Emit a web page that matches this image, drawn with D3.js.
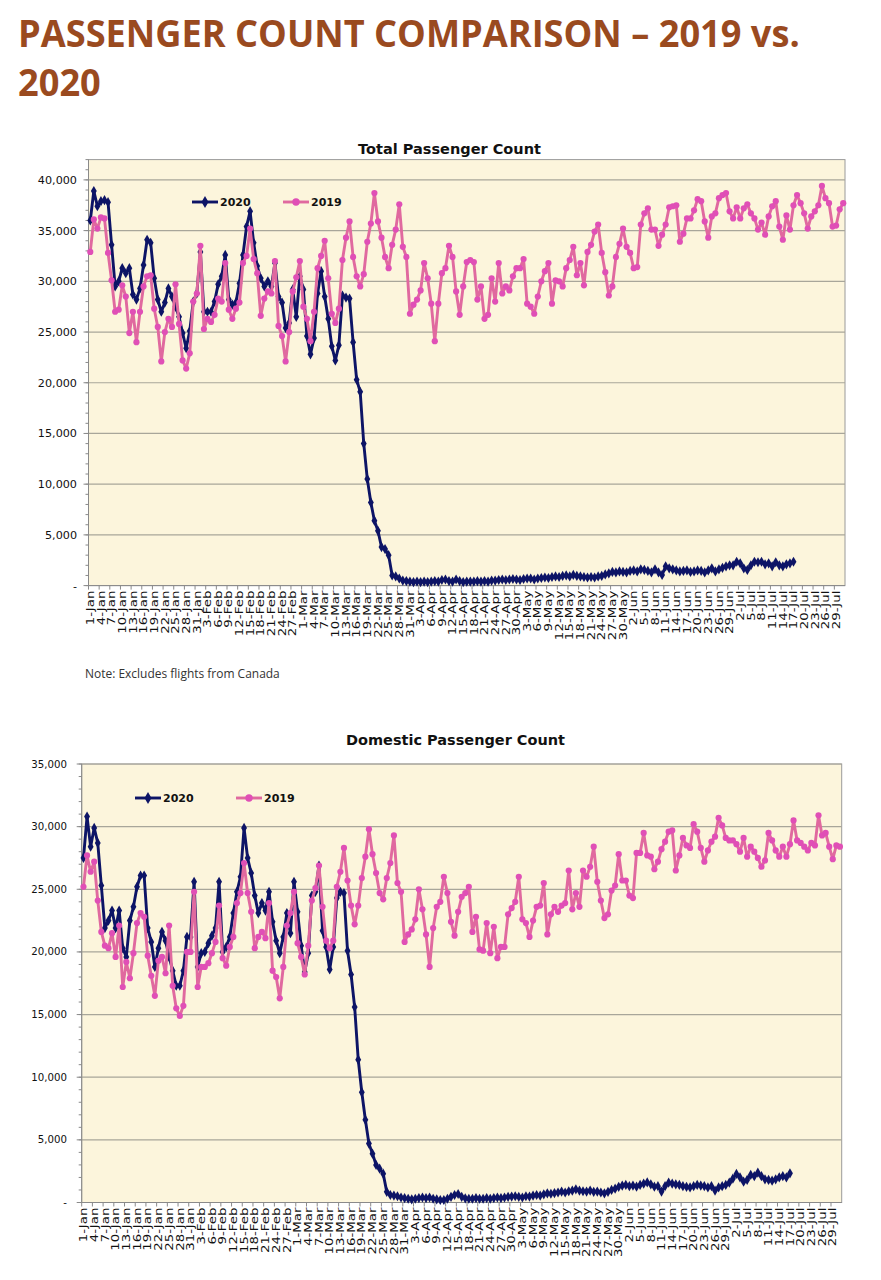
<!DOCTYPE html>
<html>
<head>
<meta charset="utf-8">
<script src="https://cdn.jsdelivr.net/npm/d3@7"></script>
<style>
  body { margin: 0; background: #ffffff; }
  svg { display: block; }
</style>
</head>
<body>
<svg id="chart" width="881" height="1280"></svg>
<script>
// ---------- DATA (passenger counts, in thousands) ----------
const categories = d3.timeDay.range(new Date(2020, 0, 1), new Date(2020, 7, 1)).map(d3.timeFormat("%-d-%b"));

const total2019 = [
  32.9, 36.1, 35.2, 36.3, 36.2, 32.8, 30.1, 27.0, 27.2, 29.6, 28.5,
  24.9, 27.0, 24.0, 27.0, 29.5, 30.5, 30.6, 27.3, 25.5, 22.1,
  25.0, 26.3, 25.5, 29.7, 25.8, 22.2, 21.4, 22.9, 28.0, 28.8,
  33.5, 25.3, 26.3, 26.0, 26.7, 28.3, 28.0, 31.8, 27.2, 26.3,
  27.3, 27.9, 31.8, 32.5, 35.2, 32.2, 30.8, 26.6, 28.3, 29.0,
  28.8, 32.0, 25.6, 24.6, 22.1, 25.0, 29.0, 30.4, 32.0, 27.5,
  26.3, 24.1, 27.0, 31.3, 32.5, 34.0, 30.3, 26.8, 25.9, 27.3,
  32.1, 34.3, 35.9, 32.4, 30.5, 29.5, 30.7, 33.9, 35.7, 38.7,
  35.9, 34.3, 32.4, 31.3, 33.6, 35.1, 37.6, 33.4, 32.4, 26.8,
  27.7, 28.2, 29.1, 31.8, 30.3, 27.8, 24.1, 27.8, 30.8, 31.3,
  33.5, 32.4, 29.0, 26.7, 29.5, 31.9, 32.1, 31.9, 28.2, 29.5,
  26.3, 26.7, 30.3, 28.0, 31.8, 28.8, 29.5, 29.1, 30.5, 31.3,
  31.3, 32.2, 27.8, 27.5, 26.8, 28.5, 30.0, 31.0, 31.8, 27.8,
  30.1, 30.0, 29.5, 31.3, 32.1, 33.4, 30.6, 31.8, 29.6, 32.9,
  33.6, 34.9, 35.6, 32.8, 30.9, 28.6, 29.5, 32.4, 33.7, 35.2,
  33.4, 32.8, 31.3, 31.4, 35.6, 36.7, 37.2, 35.1, 35.1, 33.5,
  34.6, 35.6, 37.3, 37.4, 37.5, 33.9, 34.7, 36.2, 36.2, 37.0,
  38.1, 37.9, 35.9, 34.3, 36.4, 36.7, 38.2, 38.5, 38.7, 36.9,
  36.2, 37.3, 36.2, 37.2, 37.6, 36.7, 36.2, 35.1, 35.8, 34.6,
  36.4, 37.4, 37.9, 35.4, 34.1, 36.5, 35.1, 37.5, 38.5, 37.7,
  36.7, 35.2, 36.4, 36.9, 37.5, 39.4, 38.2, 37.7, 35.4, 35.5, 37.1, 37.7
];

const total2020 = [
  36.0, 38.9, 37.4, 37.9, 38.0, 37.8, 33.6, 29.5, 30.0, 31.3, 30.8,
  31.3, 28.7, 28.2, 29.3, 31.6, 34.1, 33.8, 30.3, 28.2, 27.0,
  27.9, 29.3, 28.5, 27.5, 26.5, 24.9, 23.4, 25.1, 28.0, 28.8,
  32.9, 27.0, 27.0, 27.0, 28.0, 29.7, 30.5, 32.6, 28.2, 27.7,
  27.9, 29.8, 32.6, 35.4, 36.9, 33.8, 31.5, 30.3, 29.5, 30.0,
  29.5, 31.8, 28.5, 27.9, 25.4, 25.9, 29.2, 26.5, 30.5, 29.2,
  24.6, 22.8, 24.4, 28.8, 31.0, 28.5, 26.3, 23.6, 22.2, 23.7,
  28.6, 28.4, 28.3, 24.0, 20.3, 19.1, 14.0, 10.5, 8.2, 6.4,
  5.4, 3.8, 3.6, 3.0, 1.0, 0.9, 0.7, 0.5, 0.45, 0.4,
  0.35, 0.4, 0.35, 0.4, 0.35, 0.4, 0.45, 0.4, 0.55, 0.6,
  0.45, 0.4, 0.6, 0.45, 0.35, 0.4, 0.4, 0.4, 0.45, 0.4,
  0.45, 0.4, 0.5, 0.5, 0.55, 0.6, 0.55, 0.6, 0.65, 0.6,
  0.55, 0.65, 0.7, 0.7, 0.6, 0.7, 0.75, 0.8, 0.75, 0.85,
  0.9, 0.85, 0.95, 1.0, 0.9, 1.05, 0.95, 0.9, 0.85, 0.8,
  0.85, 0.8, 0.9, 0.95, 1.1, 1.2, 1.35, 1.3, 1.4, 1.35,
  1.3, 1.45, 1.5, 1.4, 1.6, 1.55, 1.45, 1.3, 1.6, 1.3,
  1.05, 1.9, 1.7, 1.6, 1.5, 1.4, 1.45, 1.5, 1.35, 1.4,
  1.5, 1.45, 1.3, 1.5, 1.7, 1.4, 1.6, 1.75, 1.9, 2.0,
  2.0, 2.35, 2.2, 1.7, 1.55, 2.0, 2.35, 2.3, 2.35, 2.1,
  2.2, 1.9, 2.3, 2.0, 1.9, 2.1, 2.2, 2.35
];

const domestic2019 = [
  25.2, 27.7, 26.4, 27.2, 24.1, 21.6, 20.5, 20.3, 21.5, 19.6, 22.1,
  17.2, 19.2, 17.9, 19.9, 22.3, 23.1, 22.8, 19.7, 18.1, 16.5,
  19.3, 19.6, 18.3, 22.1, 17.3, 15.5, 14.9, 15.7, 20.0, 20.0,
  24.8, 17.2, 18.8, 18.8, 19.1, 19.9, 20.8, 23.7, 19.5, 18.9,
  20.4, 21.2, 23.9, 24.7, 27.1, 24.7, 23.2, 20.3, 21.2, 21.6,
  21.1, 23.9, 18.5, 18.0, 16.3, 18.8, 22.1, 23.1, 24.8, 20.7,
  19.6, 18.2, 20.5, 24.1, 25.1, 26.9, 23.6, 20.9, 20.3, 20.9,
  25.2, 26.4, 28.3, 25.7, 23.7, 22.2, 23.7, 25.9, 27.6, 29.8,
  27.8, 26.3, 24.7, 24.2, 25.9, 27.1, 29.3, 25.5, 24.8, 20.8,
  21.4, 21.8, 22.6, 25.0, 23.4, 21.4, 18.8, 21.9, 23.6, 24.0,
  26.0, 24.7, 22.4, 21.3, 23.2, 24.4, 24.7, 25.2, 21.6, 22.8,
  20.2, 20.1, 22.3, 19.9, 22.0, 19.5, 20.4, 20.4, 23.0, 23.5,
  24.0, 26.0, 22.6, 22.3, 21.2, 22.5, 23.6, 23.7, 25.5, 21.4,
  23.0, 23.6, 23.2, 23.7, 23.9, 26.5, 23.4, 24.7, 23.6, 26.5,
  26.0, 26.8, 28.4, 25.6, 24.1, 22.7, 23.0, 24.9, 25.3, 27.8,
  25.7, 25.7, 24.5, 24.3, 27.9, 27.9, 29.5, 27.7, 27.6, 26.6,
  27.2, 28.2, 28.8, 29.6, 29.7, 26.5, 27.7, 29.1, 28.5, 28.3,
  30.2, 29.6, 28.3, 27.2, 28.1, 28.8, 29.2, 30.7, 30.1, 29.1,
  28.9, 28.9, 28.6, 28.0, 29.1, 27.6, 28.4, 28.0, 27.5, 26.8,
  27.3, 29.5, 28.9, 28.1, 27.6, 28.4, 27.6, 28.6, 30.5, 28.9,
  28.7, 28.4, 28.1, 28.7, 28.5, 30.9, 29.3, 29.5, 28.4, 27.4, 28.5, 28.4
];

const domestic2020 = [
  27.5, 30.8, 28.4, 29.9, 28.7, 25.3, 21.9, 22.5, 23.3, 21.9, 23.3,
  20.3, 19.6, 22.5, 23.6, 25.2, 26.1, 26.1, 21.9, 20.8, 18.8,
  20.3, 21.6, 20.9, 19.6, 18.5, 17.3, 17.3, 18.5, 21.2, 21.2,
  25.6, 18.8, 19.9, 20.0, 20.7, 21.3, 21.9, 25.6, 20.0, 20.4,
  21.2, 23.1, 24.8, 26.0, 29.9, 27.5, 26.3, 24.5, 23.1, 23.9,
  23.3, 24.8, 22.4, 20.9, 19.9, 21.2, 23.1, 21.5, 25.6, 23.2,
  20.5, 18.4, 19.9, 24.5, 24.8, 26.9, 21.7, 20.4, 18.6, 20.4,
  24.3, 24.8, 24.7, 20.1, 18.2, 15.6, 11.4, 8.8, 6.6, 4.7,
  3.9, 3.0, 2.7, 2.3, 0.85, 0.6, 0.55, 0.5, 0.4, 0.35,
  0.3, 0.25, 0.3, 0.35, 0.4, 0.35, 0.4, 0.3, 0.25, 0.2,
  0.2, 0.3, 0.45, 0.6, 0.68, 0.45, 0.33, 0.3, 0.3, 0.35,
  0.3, 0.3, 0.35, 0.3, 0.35, 0.4, 0.35, 0.4, 0.45, 0.47,
  0.5, 0.45, 0.4, 0.5, 0.47, 0.55, 0.6, 0.55, 0.65, 0.73,
  0.7, 0.75, 0.8, 0.87, 0.8, 0.9, 0.95, 1.05, 0.95, 0.9,
  0.87, 0.95, 0.85, 0.87, 0.8, 0.73, 0.85, 1.0, 1.1, 1.25,
  1.35, 1.4, 1.3, 1.35, 1.26, 1.4, 1.5, 1.6, 1.45, 1.26,
  1.3, 0.87, 1.3, 1.58, 1.5, 1.45, 1.4, 1.3, 1.25, 1.2,
  1.3, 1.4, 1.35, 1.3, 1.2, 1.3, 0.95, 1.2, 1.3, 1.4,
  1.58, 1.9, 2.28, 2.0, 1.66, 1.8, 2.2, 2.1, 2.38, 2.1,
  1.85, 1.8, 1.74, 1.85, 2.0, 2.1, 2.0, 2.33
];

const totalTicks = [0, 5, 10, 15, 20, 25, 30, 35, 40];
const domesticTicks = [0, 5, 10, 15, 20, 25, 30, 35];
const xTickLabels = categories.filter((d, i) => i % 3 === 0);
const seriesNames = ["2020", "2019"];

// ---------- STYLE ----------
const C2020 = "#0d1466";
const C2019line = "#e0699f";
const C2019mark = "#e04fb6";
const PLOT_BG = "#fcf5dc";
const GRID = "#a8a69a";

const svg = d3.select("#chart");

// Main title
const titleG = svg.append("g").attr("font-family", "'Open Sans', sans-serif")
  .attr("font-weight", 700).attr("font-size", 37).attr("fill", "#9a4a1f");
const t1 = titleG.append("text").text("PASSENGER COUNT COMPARISON \u2013 2019 vs.");
const w1 = t1.node().getComputedTextLength();
const sx = 782 / w1;
t1.attr("transform", `translate(18,47) scale(${sx},1)`);
titleG.append("text").text("2020").attr("transform", `translate(18,96) scale(${sx},1)`);

function fitText(sel, targetW) {
  const w = sel.node().getComputedTextLength();
  const fs = parseFloat(sel.attr("font-size"));
  sel.attr("font-size", fs * targetW / w);
}

function drawChart(cfg) {
  const g = svg.append("g");
  const x = d3.scaleBand().domain(categories).range([cfg.x0, cfg.x1]);
  const y = d3.scaleLinear().domain([0, cfg.max]).range([cfg.yBottom, cfg.yTop]);
  const cx = i => x(categories[i]) + x.bandwidth() / 2;

  // plot background
  g.append("rect").attr("x", cfg.x0).attr("y", cfg.yTop)
    .attr("width", cfg.x1 - cfg.x0).attr("height", cfg.yBottom - cfg.yTop)
    .attr("fill", PLOT_BG).attr("stroke", "#9a9a9a").attr("stroke-width", 1);

  // gridlines
  g.selectAll(".grid").data(cfg.ticks.filter(t => t > 0)).join("line")
    .attr("x1", cfg.x0).attr("x2", cfg.x1)
    .attr("y1", d => y(d)).attr("y2", d => y(d))
    .attr("stroke", GRID).attr("stroke-width", 1.2);

  // y axis line + ticks
  g.append("line").attr("x1", cfg.x0).attr("x2", cfg.x0)
    .attr("y1", cfg.yTop).attr("y2", cfg.yBottom).attr("stroke", "#8a8a8a");
  const minor = d3.range(0, cfg.max + 0.001, 1);
  g.selectAll(".ymin").data(minor).join("line")
    .attr("x1", cfg.x0 - 3).attr("x2", cfg.x0)
    .attr("y1", d => y(d)).attr("y2", d => y(d)).attr("stroke", "#8a8a8a");
  g.selectAll(".ymaj").data(cfg.ticks).join("line")
    .attr("x1", cfg.x0 - 5).attr("x2", cfg.x0)
    .attr("y1", d => y(d)).attr("y2", d => y(d)).attr("stroke", "#8a8a8a");
  g.selectAll(".ylab").data(cfg.ticks).join("text")
    .attr("x", cfg.labelRight).attr("y", d => y(d)).attr("dy", "0.35em")
    .attr("text-anchor", "end").attr("font-family", "'DejaVu Sans', sans-serif")
    .attr("font-size", cfg.yFont).attr("fill", "#111")
    .text(d => d === 0 ? "-" : d3.format(",")(d * 1000));

  // x axis
  g.append("line").attr("x1", cfg.x0).attr("x2", cfg.x1)
    .attr("y1", cfg.yBottom).attr("y2", cfg.yBottom).attr("stroke", "#8a8a8a");
  g.selectAll(".xt").data(xTickLabels).join("line")
    .attr("x1", d => x(d)).attr("x2", d => x(d))
    .attr("y1", cfg.yBottom).attr("y2", cfg.yBottom + 4).attr("stroke", "#8a8a8a");
  g.selectAll(".xl").data(xTickLabels).join("text")
    .attr("transform", d => `translate(${x(d) + x.bandwidth() / 2 + 3.7},${cfg.yBottom + 5}) rotate(-90) scale(1.3,1)`)
    .attr("text-anchor", "end").attr("font-family", "'DejaVu Sans', sans-serif")
    .attr("font-size", 10.3).attr("fill", "#111").text(d => d);

  // lines
  const line = d3.line().x((d, i) => cx(i)).y(d => y(d));
  g.append("path").datum(cfg.s2020).attr("d", line)
    .attr("fill", "none").attr("stroke", C2020).attr("stroke-width", 2.9).attr("stroke-linejoin", "round");
  const diamond = d3.symbol().type(d3.symbolDiamond).size(30);
  g.selectAll(".m20").data(cfg.s2020).join("path")
    .attr("d", diamond).attr("transform", (d, i) => `translate(${cx(i)},${y(d)})`)
    .attr("fill", C2020);

  g.append("path").datum(cfg.s2019).attr("d", line)
    .attr("fill", "none").attr("stroke", C2019line).attr("stroke-width", 2.9).attr("stroke-linejoin", "round");
  g.selectAll(".m19").data(cfg.s2019).join("circle")
    .attr("cx", (d, i) => cx(i)).attr("cy", d => y(d)).attr("r", 3.1)
    .attr("fill", C2019mark);

  // title
  const tt = g.append("text").attr("x", cfg.titleX).attr("y", cfg.titleY)
    .attr("text-anchor", "middle").attr("font-family", "'DejaVu Sans', sans-serif")
    .attr("font-weight", "bold").attr("font-size", 14).attr("fill", "#111").text(cfg.title);
  fitText(tt, cfg.titleW);

  // legend
  const L = cfg.legend;
  g.append("line").attr("x1", L.x20).attr("x2", L.x20 + 26).attr("y1", L.y).attr("y2", L.y)
    .attr("stroke", C2020).attr("stroke-width", 2.9);
  g.append("path").attr("d", d3.symbol().type(d3.symbolDiamond).size(42))
    .attr("transform", `translate(${L.x20 + 13},${L.y})`).attr("fill", C2020);
  g.append("text").attr("x", L.x20 + 28).attr("y", L.y).attr("dy", "0.36em")
    .attr("font-family", "'DejaVu Sans', sans-serif").attr("font-weight", "bold")
    .attr("font-size", L.fs).attr("fill", "#111").text(seriesNames[0]);
  g.append("line").attr("x1", L.x19).attr("x2", L.x19 + 26).attr("y1", L.y).attr("y2", L.y)
    .attr("stroke", C2019line).attr("stroke-width", 2.9);
  g.append("circle").attr("cx", L.x19 + 13).attr("cy", L.y).attr("r", 3.7).attr("fill", C2019mark);
  g.append("text").attr("x", L.x19 + 28).attr("y", L.y).attr("dy", "0.36em")
    .attr("font-family", "'DejaVu Sans', sans-serif").attr("font-weight", "bold")
    .attr("font-size", L.fs).attr("fill", "#111").text(seriesNames[1]);
}

drawChart({
  x0: 88.5, x1: 845, yTop: 159.6, yBottom: 585.6, max: 42,
  ticks: totalTicks, labelRight: 77, yFont: 11.2,
  s2019: total2019, s2020: total2020,
  title: "Total Passenger Count", titleX: 449.5, titleY: 154, titleW: 183,
  legend: { x20: 192, x19: 283, y: 202, fs: 11 }
});

drawChart({
  x0: 81.7, x1: 841.7, yTop: 764, yBottom: 1202.5, max: 35,
  ticks: domesticTicks, labelRight: 67, yFont: 10.2,
  s2019: domestic2019, s2020: domestic2020,
  title: "Domestic Passenger Count", titleX: 455.5, titleY: 745, titleW: 219,
  legend: { x20: 135, x19: 236, y: 798, fs: 11 }
});

// Note
const note = svg.append("text").attr("x", 85).attr("y", 678)
  .attr("font-family", "'Open Sans', sans-serif").attr("font-size", 12)
  .attr("fill", "#333").text("Note: Excludes flights from Canada");
fitText(note, 195);
</script>
</body>
</html>
